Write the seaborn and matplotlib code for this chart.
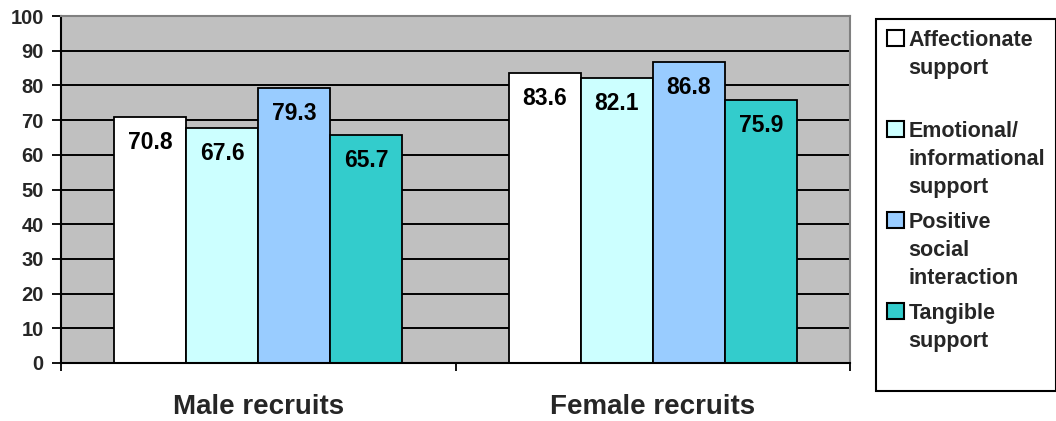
import matplotlib
matplotlib.use("Agg")
import matplotlib.pyplot as plt
import seaborn as sns
import pandas as pd
from matplotlib.ticker import FixedLocator, MultipleLocator

# Share of recruits reporting each kind of social support (%)
groups = ["Male recruits", "Female recruits"]
support_types = [
    "Affectionate support",
    "Emotional/informational support",
    "Positive social interaction",
    "Tangible support",
]
male_values = [70.8, 67.6, 79.3, 65.7]
female_values = [83.6, 82.1, 86.8, 75.9]
legend_labels = [
    "Affectionate\nsupport\n",
    "Emotional/\ninformational\nsupport",
    "Positive\nsocial\ninteraction",
    "Tangible\nsupport\n",
]
bar_colors = ["#FFFFFF", "#CCFFFF", "#99CCFF", "#33CCCC"]

df = pd.DataFrame({
    "group": [g for g in groups for _ in support_types],
    "support": support_types * 2,
    "value": male_values + female_values,
})

sns.set_theme(style="white")
plt.rcParams["font.family"] = ["Liberation Sans", "DejaVu Sans"]
plt.rcParams["font.weight"] = "bold"

W, H = 1056, 421
fig = plt.figure(figsize=(W / 100, H / 100), dpi=100)
ax = fig.add_axes([61 / W, 1 - 363 / H, (850 - 61) / W, (363 - 16) / H])

sns.barplot(
    data=df, x="group", y="value", hue="support",
    order=groups, hue_order=support_types, palette=bar_colors,
    width=0.73, saturation=1, edgecolor="black", linewidth=1.3,
    errorbar=None, ax=ax,
)

# Value labels just inside the top of each bar
for container in ax.containers:
    for bar, v in zip(container, container.datavalues):
        ax.annotate(
            f"{v:.1f}",
            xy=(bar.get_x() + bar.get_width() / 2, bar.get_height()),
            xytext=(0, -10), textcoords="offset points",
            ha="center", va="top", fontsize=16.5, fontweight="bold",
            color="black",
        )

ax.set_facecolor("#C0C0C0")
ax.set_axisbelow(True)
ax.yaxis.grid(True, color="black", linewidth=1.4)
ax.xaxis.grid(False)

ax.set_ylim(0, 100)
ax.yaxis.set_major_locator(MultipleLocator(10))
ax.set_xlim(-0.5, 1.5)
ax.xaxis.set_minor_locator(FixedLocator([-0.5, 0.5, 1.5]))

ax.set_xlabel("")
ax.set_ylabel("")

ax.tick_params(axis="y", which="major", left=True, direction="out",
               length=6.5, width=1.3, color="black", pad=6,
               labelsize=14.5)
ax.tick_params(axis="x", which="major", bottom=True, length=0, pad=22,
               labelsize=20)
ax.tick_params(axis="x", which="minor", bottom=True, direction="out",
               length=6, width=1.3, color="black")
for lbl in ax.get_xticklabels() + ax.get_yticklabels():
    lbl.set_fontweight("bold")

for side in ("left", "bottom"):
    ax.spines[side].set_color("black")
    ax.spines[side].set_linewidth(1.5)
for side in ("top", "right"):
    ax.spines[side].set_color("#808080")
    ax.spines[side].set_linewidth(1.5)

handles, _ = ax.get_legend_handles_labels()
ax.get_legend().remove()
leg = fig.legend(
    handles, legend_labels,
    loc="upper left", bbox_to_anchor=(876 / W, 1 - 19 / H),
    bbox_transform=fig.transFigure, borderaxespad=0,
    frameon=True, fancybox=False, edgecolor="black", facecolor="white",
    framealpha=1, handlelength=0.8, handleheight=0.8,
    handletextpad=0.2, labelspacing=0.63, borderpad=0.5,
    prop={"weight": "bold", "size": 15.5},
)
leg.get_frame().set_linewidth(1.5)
for h in leg.legend_handles:
    h.set_edgecolor("black")
    h.set_linewidth(1.5)
for t in leg.get_texts():
    t.set_linespacing(1.45)
# keep each swatch level with the first line of its label
for column in leg._legend_handle_box.get_children():
    for item in column.get_children():
        item.align = "top"

fig.savefig("out.png", dpi=100)
